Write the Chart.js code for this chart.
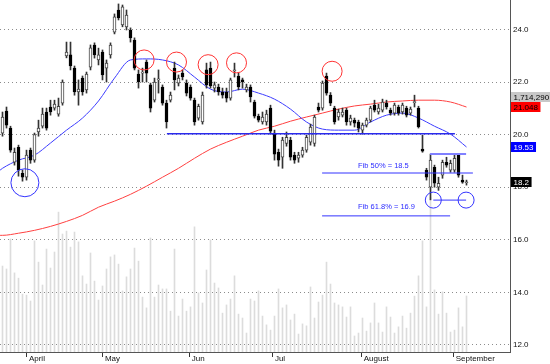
<!DOCTYPE html>
<html>
<head>
<meta charset="utf-8">
<script src="https://cdn.jsdelivr.net/npm/chart.js@4"></script>
<style>
  html, body { margin: 0; padding: 0; background: #fff; overflow: hidden; }
  canvas { display: block; }
</style>
</head>
<body>
<canvas id="chart" width="550" height="364"></canvas>
<script>
// daily candles (index = trading day)
const opens = [20.06, 20.90, 20.25, 18.95, 19.52, 18.53, 18.38, 19.41, 19.03, 20.10,
  20.32, 20.86, 21.05, 21.01, 20.78, 21.20, 22.99, 23.03, 22.53, 21.62,
  22.15, 21.70, 22.57, 23.41, 22.84, 23.14, 22.53, 23.03, 23.90, 24.74,
  24.17, 24.10, 23.98, 23.60, 22.30, 22.34, 22.76, 21.89, 21.31, 22.08,
  21.81, 21.20, 21.31, 22.53, 21.96, 22.34, 21.96, 21.81, 21.31, 20.63,
  20.48, 22.46, 22.53, 21.77, 21.81, 21.62, 21.62, 21.39, 22.42, 22.23,
  22.08, 21.70, 21.81, 21.24, 20.70, 20.48, 20.48, 21.01, 20.06, 19.33,
  19.14, 19.67, 19.79, 19.22, 19.10, 19.22, 19.41, 19.71, 19.67, 21.05,
  21.01, 22.23, 21.50, 21.01, 20.67, 20.74, 20.93, 20.48, 20.55, 20.48,
  20.17, 20.36, 20.55, 21.12, 20.86, 20.93, 21.20, 20.93, 20.82, 21.05,
  20.86, 21.01, 20.82, 21.22, 21.01, 19.45, 18.65, 18.00, 18.76, 18.00,
  18.46, 18.95, 18.65, 18.65, 19.22, 18.27, 18.17];
const highs = [20.86, 21.05, 20.32, 19.49, 19.60, 18.65, 19.41, 19.49, 20.06, 20.55,
  21.01, 21.01, 21.31, 21.31, 21.39, 22.08, 23.52, 23.52, 22.61, 22.08,
  22.23, 22.38, 23.41, 23.49, 23.29, 23.22, 22.84, 23.49, 24.59, 24.97,
  24.93, 24.74, 24.06, 23.68, 22.46, 22.53, 22.84, 21.96, 22.15, 22.46,
  21.89, 21.31, 21.62, 22.76, 22.27, 22.46, 22.08, 21.89, 21.39, 21.16,
  21.62, 22.72, 22.76, 22.00, 21.92, 21.77, 21.77, 22.15, 22.72, 22.34,
  22.15, 21.92, 21.89, 21.31, 20.78, 20.86, 20.93, 21.12, 20.17, 19.45,
  19.90, 20.10, 19.90, 19.33, 19.33, 19.52, 19.98, 20.40, 20.74, 21.20,
  22.04, 22.34, 21.60, 21.08, 20.97, 21.01, 21.01, 20.74, 20.63, 20.55,
  20.44, 20.63, 21.08, 21.31, 21.16, 21.35, 21.31, 21.01, 21.20, 21.12,
  21.20, 21.08, 21.05, 21.50, 21.08, 19.98, 18.72, 19.26, 18.84, 18.38,
  19.03, 19.14, 19.03, 19.26, 19.26, 18.46, 18.27];
const lows = [19.94, 20.25, 19.33, 18.84, 18.42, 18.23, 18.27, 18.91, 18.95, 19.94,
  20.25, 20.17, 20.74, 20.93, 20.70, 21.12, 22.92, 22.46, 21.50, 21.12,
  21.50, 21.58, 22.46, 22.91, 22.65, 22.08, 22.00, 22.91, 23.83, 24.36,
  24.10, 23.98, 23.52, 22.46, 21.77, 22.00, 22.00, 20.86, 21.24, 21.58,
  21.12, 20.25, 21.24, 21.70, 21.85, 22.08, 21.47, 21.31, 20.36, 20.55,
  20.40, 21.77, 21.77, 21.62, 21.50, 21.39, 21.24, 21.31, 22.19, 21.70,
  21.77, 21.62, 21.24, 20.63, 20.48, 20.40, 20.36, 20.02, 19.03, 18.80,
  18.72, 19.56, 19.03, 18.91, 18.95, 19.14, 19.33, 19.60, 19.56, 20.86,
  20.93, 21.50, 21.10, 20.40, 20.55, 20.67, 20.36, 20.36, 20.29, 20.10,
  20.02, 20.29, 20.48, 20.86, 20.78, 20.86, 20.97, 20.74, 20.74, 20.74,
  20.78, 20.67, 20.74, 21.05, 20.25, 19.33, 18.27, 17.52, 18.00, 17.88,
  18.34, 18.76, 18.57, 18.57, 18.38, 18.15, 18.08];
const closes = [20.67, 20.36, 19.41, 19.33, 18.65, 18.38, 19.22, 19.03, 20.00, 20.25,
  20.78, 20.25, 20.86, 21.16, 21.08, 22.00, 23.14, 22.61, 21.62, 21.73,
  21.62, 22.30, 23.30, 23.03, 23.03, 22.27, 22.72, 23.41, 24.48, 24.44,
  24.86, 24.55, 23.68, 22.53, 22.00, 22.38, 22.34, 21.01, 22.00, 22.11,
  21.20, 20.48, 21.50, 22.08, 22.15, 22.19, 21.58, 21.39, 20.48, 21.08,
  21.50, 21.89, 21.85, 21.89, 21.62, 21.50, 21.39, 22.08, 22.46, 21.81,
  22.00, 21.81, 21.43, 20.70, 20.55, 20.67, 20.78, 20.13, 19.26, 19.03,
  19.79, 19.90, 19.14, 19.03, 19.22, 19.41, 19.90, 20.29, 20.67, 20.93,
  21.96, 21.58, 21.20, 20.48, 20.86, 20.86, 20.48, 20.63, 20.44, 20.25,
  20.36, 20.55, 21.01, 20.93, 21.01, 21.24, 21.05, 20.82, 21.12, 20.82,
  21.12, 20.74, 20.97, 21.24, 20.29, 19.37, 18.38, 19.03, 18.15, 18.15,
  18.95, 18.84, 18.91, 19.10, 18.46, 18.19, 18.20];
// volume in thousands of shares
const volumes = [2630, 2540, 3460, 2420, 2260, 1770, 1740, 1560, 3400, 2750,
  2050, 3150, 2570, 3060, 4280, 3610, 3700, 3210, 3670, 3370,
  2330, 2080, 3030, 2170, 1590, 2020, 2540, 2910, 2970, 2690,
  1870, 2300, 2540, 3180, 2780, 1680, 1350, 3490, 1680, 2050,
  1930, 1930, 1250, 3150, 1100, 1620, 1250, 1380, 3830, 1810,
  1500, 2510, 3430, 2110, 1960, 1190, 1440, 1620, 2330, 1160,
  1040, 580, 1620, 1560, 1870, 1100, 830, 670, 1100, 1930,
  1350, 1440, 980, 1160, 550, 860, 800, 1990, 1040, 1530,
  1740, 2750, 2080, 1500, 1440, 1380, 1070, 1380, 490, 580,
  1040, 640, 890, 1500, 890, 610, 1380, 1070, 580, 770,
  1100, 730, 1190, 1710, 2330, 3400, 1380, 4740, 1900, 1160,
  1840, 1190, 610, 670, 1350, 770, 1714];

// moving averages, read at every 4th day
const maDays = [-0.6, 0, 4, 8, 12, 16, 20, 24, 28, 32, 36, 40, 44, 48, 52, 56, 60,
  64, 68, 72, 76, 80, 84, 88, 92, 96, 100, 104, 108, 112, 116];
const maShort = [18.65, 18.72, 19.03, 19.22, 19.68, 20.17, 20.63, 21.28, 22.15, 22.84,
  22.88, 22.84, 22.65, 22.19, 21.73, 21.62, 21.73, 21.58, 21.35, 20.97,
  20.48, 20.21, 20.17, 20.17, 20.48, 20.74, 20.82, 20.63, 20.32, 20.02, 19.53];
const maLong = [16.17, 16.17, 16.25, 16.36, 16.51, 16.70, 16.93, 17.24, 17.47, 17.73,
  18.04, 18.38, 18.72, 19.10, 19.45, 19.71, 19.94, 20.17, 20.32, 20.51,
  20.67, 20.82, 20.97, 21.09, 21.16, 21.24, 21.28, 21.31, 21.31, 21.24, 21.05];

const priceTicks = [12, 14, 16, 18, 20, 22, 24];
const monthDays = [6.1, 25.1, 46.8, 67.6, 89.8, 112.8];
const monthLabels = ["April", "May", "Jun", "Jul", "August", "September"];

// drawn annotations (day, price)
const redCircleDays = [35.4, 43.5, 51.4, 58.5, 82.4];
const redCirclePrices = [22.84, 22.76, 22.66, 22.73, 22.41];
const supportLine = { days: [41.1, 113.1], price: 20.03 };
const fib50Line = { days: [79.9, 117.6], price: 18.54 };
const fib618Line = { days: [79.9, 111.9], price: 16.91 };
const rangeTopLine = { days: [106.9, 115.9], price: 19.26 };
const targetLine = { days: [107.7, 115.9], price: 17.51 };
const fibTexts = ["Fib 50% = 18.5", "Fib 61.8% = 16.9"];
const fibTextDays = [88.9, 88.9];
const fibTextPrices = [18.81, 17.25];

// value tags on the right axis
const lastVolumeText = "1,714,290";
const tagValues = [21.048, 19.53, 18.2];
const tagTexts = ["21.048", "19.53", "18.2"];

const FONT = '"Liberation Sans", Arial, sans-serif';
Chart.defaults.font.family = FONT;
Chart.defaults.font.size = 8;
Chart.defaults.color = "#111";

const days = closes.map((c, i) => i);

function hLine(line, color, width) {
  return {
    type: "line",
    data: line.days.map((d) => ({ x: d, y: line.price })),
    borderColor: color,
    borderWidth: width,
    pointRadius: 0,
    order: 0,
  };
}

function circles(dList, pList, radius, color) {
  return {
    type: "line",
    data: dList.map((d, i) => ({ x: d, y: pList[i] })),
    showLine: false,
    pointRadius: radius,
    pointHoverRadius: radius,
    pointBackgroundColor: "rgba(0,0,0,0)",
    pointBorderColor: color,
    pointBorderWidth: 1,
    order: 0,
  };
}

const textPlugin = {
  id: "textPlugin",
  afterDatasetsDraw(chart) {
    const { ctx } = chart;
    const x = chart.scales.x;
    const y = chart.scales.y;
    ctx.save();
    ctx.font = "7.5px " + FONT;
    ctx.fillStyle = "#2b2bff";
    ctx.textBaseline = "middle";
    ctx.textAlign = "left";
    fibTexts.forEach((t, i) => {
      ctx.fillText(t, x.getPixelForValue(fibTextDays[i]), y.getPixelForValue(fibTextPrices[i]));
    });
    ctx.restore();
  },
  afterDraw(chart) {
    const { ctx, chartArea } = chart;
    const y = chart.scales.y;
    const left = chartArea.right + 1;
    ctx.save();
    ctx.font = "8px " + FONT;
    ctx.textBaseline = "middle";
    ctx.textAlign = "left";

    function tag(text, cy, bg, fg) {
      const w = ctx.measureText(text).width + 5;
      ctx.fillStyle = bg;
      ctx.fillRect(left, Math.round(cy) - 5, w, 10);
      ctx.fillStyle = fg;
      ctx.fillText(text, left + 2.5, Math.round(cy) + 0.5);
    }

    const redY = y.getPixelForValue(tagValues[0]);
    tag(lastVolumeText, redY - 10, "#c8c8c8", "#000");
    tag(tagTexts[0], redY, "#ff0000", "#000");
    tag(tagTexts[1], y.getPixelForValue(tagValues[1]), "#0000ff", "#fff");
    tag(tagTexts[2], y.getPixelForValue(tagValues[2]), "#000", "#fff");
    ctx.restore();
  },
};

new Chart(document.getElementById("chart"), {
  type: "bar",
  data: {
    datasets: [
      circles(redCircleDays, redCirclePrices, 10, "#ff3333"),
      circles([5.6], [18.17], 14, "#3333ff"),
      circles([107.7, 115.9], [17.51, 17.51], 8, "#3333ff"),
      hLine(targetLine, "#3333ff", 1),
      hLine(rangeTopLine, "#8080ff", 2),
      hLine(fib50Line, "#3333ff", 1),
      hLine(fib618Line, "#3333ff", 1),
      hLine(supportLine, "#2a2aee", 1.5),
      {
        // candle bodies
        type: "bar",
        data: days.map((i) => ({
          x: i,
          y: [Math.min(opens[i], closes[i]), Math.max(opens[i], closes[i])],
        })),
        backgroundColor: days.map((i) => (closes[i] >= opens[i] ? "#ffffff" : "#000000")),
        borderColor: days.map((i) => (closes[i] >= opens[i] ? "#444444" : "#000000")),
        borderWidth: 1,
        borderSkipped: false,
        barThickness: 3,
        minBarLength: 1,
        grouped: false,
        order: 1,
      },
      {
        // wicks
        type: "bar",
        data: days.map((i) => ({ x: i, y: [lows[i], highs[i]] })),
        backgroundColor: "#333333",
        barThickness: 1,
        grouped: false,
        order: 2,
      },
      {
        type: "line",
        data: maDays.map((d, i) => ({ x: d, y: maShort[i] })),
        borderColor: "#3c3cff",
        borderWidth: 1,
        pointRadius: 0,
        cubicInterpolationMode: "monotone",
        order: 3,
      },
      {
        type: "line",
        data: maDays.map((d, i) => ({ x: d, y: maLong[i] })),
        borderColor: "#ff4040",
        borderWidth: 1,
        pointRadius: 0,
        cubicInterpolationMode: "monotone",
        order: 3,
      },
      {
        type: "bar",
        yAxisID: "yv",
        data: days.map((i) => ({ x: i, y: volumes[i] })),
        backgroundColor: "#dcdcdc",
        barThickness: 1,
        grouped: false,
        order: 5,
      },
    ],
  },
  options: {
    responsive: false,
    animation: false,
    layout: { padding: 0, autoPadding: false },
    plugins: { legend: { display: false }, tooltip: { enabled: false } },
    scales: {
      x: {
        type: "linear",
        min: -0.625,
        max: 126.875,
        offset: false,
        afterBuildTicks: (s) => {
          s.ticks = monthDays.map((v) => ({ value: v }));
        },
        afterFit: (s) => {
          s.height = 12;
          s.paddingLeft = 0;
          s.paddingRight = 0;
        },
        grid: {
          offset: false,
          drawOnChartArea: false,
          drawTicks: true,
          tickLength: 5,
          tickColor: "#333",
        },
        border: { color: "#555" },
        ticks: {
          autoSkip: false,
          maxRotation: 0,
          align: "start",
          labelOffset: 2,
          padding: -3,
          color: "#111",
          callback: (v, i) => monthLabels[i],
        },
      },
      y: {
        type: "linear",
        position: "right",
        min: 11.733,
        max: 25.12,
        afterBuildTicks: (s) => {
          s.ticks = priceTicks.map((v) => ({ value: v }));
        },
        afterFit: (s) => {
          s.width = 40;
          s.paddingTop = 0;
          s.paddingBottom = 0;
        },
        grid: { color: "#8c8c8c", drawTicks: false, tickLength: 0 },
        border: { color: "#555", dash: [1, 3] },
        ticks: {
          padding: 3,
          color: "#111",
          callback: (v) => Number(v).toFixed(1),
        },
      },
      yv: {
        type: "linear",
        display: false,
        min: 0,
        max: 10771,
      },
    },
  },
  plugins: [textPlugin],
});
</script>
</body>
</html>
